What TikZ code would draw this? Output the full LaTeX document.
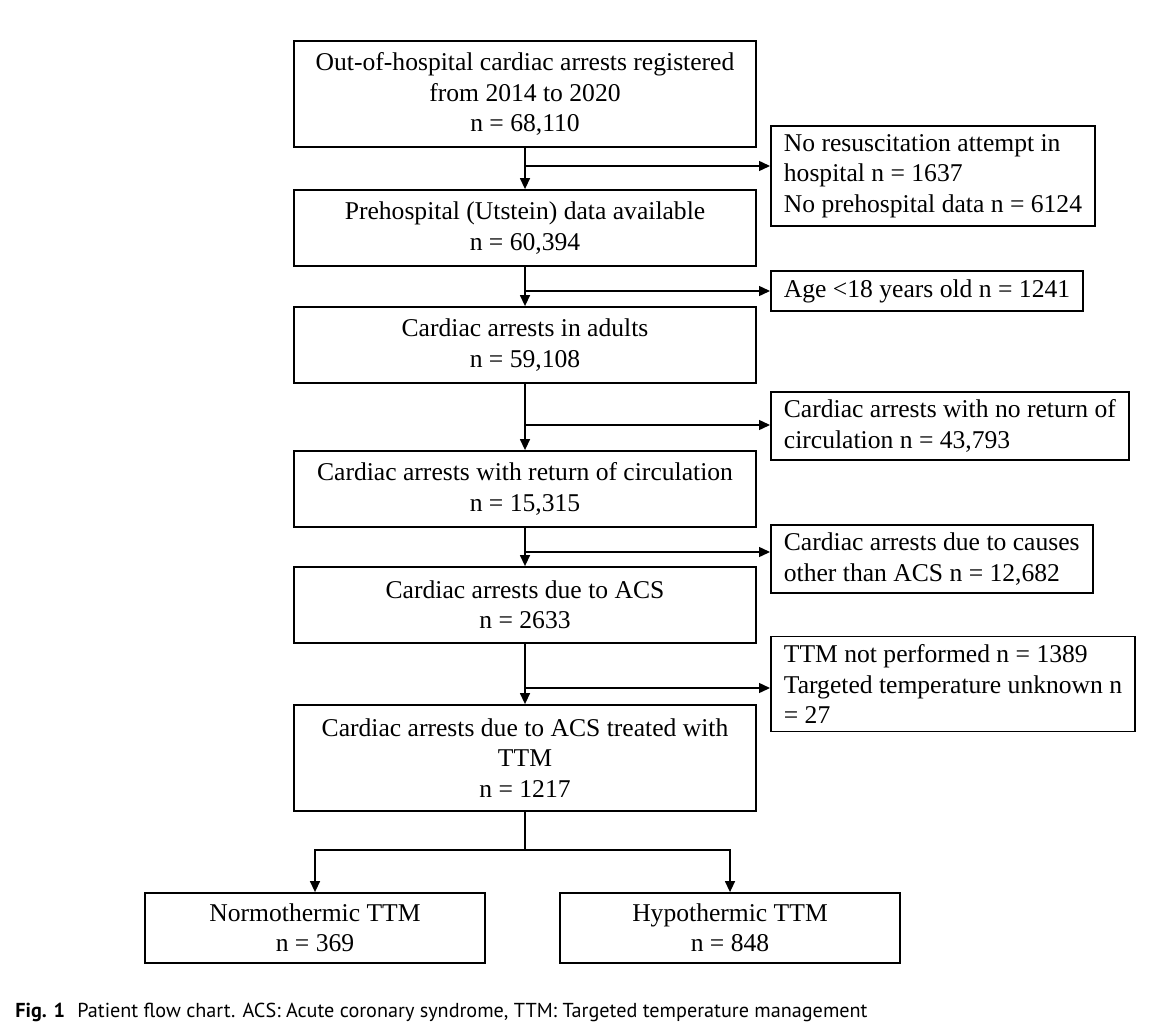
\documentclass[tikz,border=0pt]{standalone}
\usepackage{fontspec}
\setmainfont{Liberation Serif}
\newfontfamily\capfont{PT Sans}
\usetikzlibrary{arrows.meta,positioning}

\tikzset{
  box/.style={draw, line width=0.9pt, rectangle, align=center, inner sep=0pt,
              font=\fontsize{12.8}{15.2}\selectfont},
  mainbox/.style={box, minimum width=231pt},
  sidebox/.style={box, anchor=west, align=left, inner xsep=6.5pt, inner ysep=4pt},
  flow/.style={line width=0.7pt, -{Triangle[length=5.5pt,width=5pt]}},
  link/.style={line width=0.7pt}
}

\begin{document}
\begin{tikzpicture}[x=0.5pt, y=-0.5pt]
\useasboundingbox (0,0) rectangle (1176,1032);
%\draw [help lines, step=50] (0,0) grid (1176,1032);

% main column
\node[mainbox, minimum height=53pt] (reg)   at (525,94)  {Out-of-hospital cardiac arrests registered\\from 2014 to 2020\\n = 68,110};
\node[mainbox, minimum height=38pt] (pre)   at (525,228) {Prehospital (Utstein) data available\\n = 60,394};
\node[mainbox, minimum height=38pt] (adult) at (525,345) {Cardiac arrests in adults\\n = 59,108};
\node[mainbox, minimum height=38pt] (rosc)  at (525,489) {Cardiac arrests with return of circulation\\n = 15,315};
\node[mainbox, minimum height=38pt] (acs)   at (525,605) {Cardiac arrests due to ACS\\n = 2633};
\node[mainbox, minimum height=53pt] (ttm)   at (525,758) {Cardiac arrests due to ACS treated with\\TTM\\n = 1217};

% exclusions
\node[sidebox] (exA) at (770,176) {No resuscitation attempt in\\hospital n = 1637\\No prehospital data n = 6124};
\node[sidebox] (exB) at (770,291) {Age <18 years old n = 1241};
\node[sidebox] (exC) at (770,426) {Cardiac arrests with no return of\\circulation n = 43,793};
\node[sidebox] (exD) at (770,559) {Cardiac arrests due to causes\\other than ACS n = 12,682};
\node[sidebox] (exE) at (770,684) {TTM not performed n = 1389\\Targeted temperature unknown n\\= 27};

% groups
\node[box, minimum width=170pt, minimum height=35pt] (normo) at (315,928) {Normothermic TTM\\n = 369};
\node[box, minimum width=170pt, minimum height=35pt] (hypo)  at (730,928) {Hypothermic TTM\\n = 848};

% junctions
\coordinate (jA) at (525,166);
\coordinate (jB) at (525,291);
\coordinate (jC) at (525,425);
\coordinate (jD) at (525,552);
\coordinate (jE) at (525,688);
\coordinate (split) at (525,850);

% edges
\draw[flow] (reg) -- (pre);
\draw[flow] (pre) -- (adult);
\draw[flow] (adult) -- (rosc);
\draw[flow] (rosc) -- (acs);
\draw[flow] (acs) -- (ttm);
\draw[flow] (jA) -- (exA.west |- jA);
\draw[flow] (jB) -- (exB.west |- jB);
\draw[flow] (jC) -- (exC.west |- jC);
\draw[flow] (jD) -- (exD.west |- jD);
\draw[flow] (jE) -- (exE.west |- jE);
\draw[link] (ttm) -- (split);
\draw[flow] (split) -| (normo);
\draw[flow] (split) -| (hypo);

% caption
\node[anchor=west, inner sep=0pt, font=\capfont\fontsize{10.1}{12}\selectfont] (cap) at (15,1012)
  {\textbf{Fig. 1}\hspace{0.6em}Patient flow chart. ACS: Acute coronary syndrome, TTM: Targeted temperature management};
\end{tikzpicture}
\end{document}
